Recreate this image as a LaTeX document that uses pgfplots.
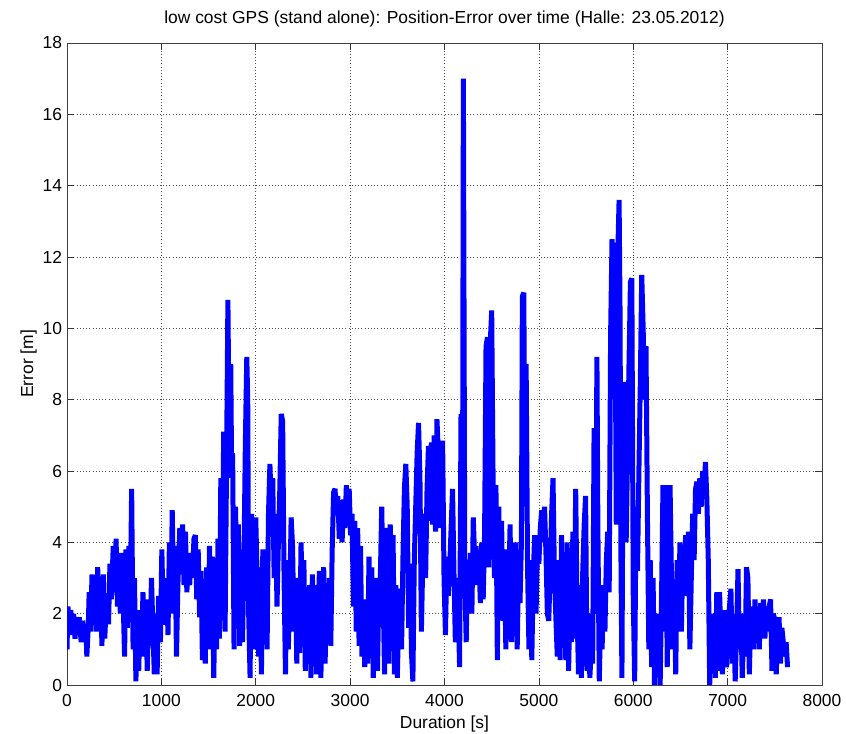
\documentclass[border=0pt]{standalone}
\usepackage{fontspec}
\setmainfont{Liberation Sans}
\usepackage{pgfplots}
\pgfplotsset{compat=1.18}
\definecolor{matblue}{RGB}{0,0,255}
\begin{document}
\fontsize{17.5}{21}\selectfont
\begin{tikzpicture}
\path[use as bounding box] (-67bp,-49bp) rectangle (779bp,685bp);
\begin{axis}[
  at={(0,0)}, anchor=south west,
  scale only axis, width=755bp, height=642bp,
  xmin=0, xmax=8000, ymin=0, ymax=18,
  xtick={0,1000,...,8000}, ytick={0,2,...,18},
  /pgf/number format/assume math mode=true,
  /pgf/number format/set thousands separator={},
  scaled ticks=false,
  tick align=inside, major tick length=7bp,
  tick style={black!80, line width=0.6bp},
  axis line style={black!75, line width=0.7bp},
  grid=major,
  major grid style={black!70, line width=0.6bp, dash pattern=on 0.8bp off 2.4bp},
  xticklabel style={font=\fontsize{17.5}{21}\selectfont, yshift=-3bp},
  yticklabel style={font=\fontsize{17.5}{21}\selectfont, xshift=1bp},
  every axis title/.style={at={(axis description cs:0.5,1.031)}, anchor=base, font=\fontsize{17.5}{21}\selectfont},
  every axis x label/.style={at={(axis description cs:0.5,-0.0685)}, anchor=base, font=\fontsize{17.5}{21}\selectfont},
  every axis y label/.style={at={(axis description cs:-0.045,0.5)}, anchor=base, rotate=90, font=\fontsize{17.5}{21}\selectfont},
  title={low cost GPS (stand alone): Position-Error over time (Halle: 23.05.2012)},
  xlabel={Duration [s]},
  ylabel={Error [m]},
]
\addplot[matblue, line width=5bp, line join=bevel, mark=none] coordinates {
(0,1.0)(10,2.2)(25,1.6)(40,2.1)(55,1.4)(70,2.0)(85,1.3)(100,1.9)(115,1.5)(130,1.9)
(150,1.2)(165,1.8)(185,1.4)(200,1.7)(210,0.8)(225,1.6)(235,2.6)(250,1.5)(265,3.1)(280,2.0)
(295,2.9)(310,1.5)(325,3.3)(340,2.2)(355,3.0)(370,1.1)(385,3.1)(400,1.3)(420,2.5)(440,1.7)
(455,3.4)(470,2.4)(490,3.9)(505,2.6)(520,4.1)(535,2.2)(550,3.4)(565,2.0)(580,3.7)(595,2.4)
(610,0.8)(625,3.8)(640,1.6)(655,3.9)(670,2.2)(685,5.5)(700,1.0)(715,3.0)(730,0.1)(745,1.8)
(760,0.4)(775,2.1)(790,1.0)(805,2.6)(820,0.8)(835,2.4)(850,0.4)(865,2.0)(880,1.1)(895,3.0)
(910,1.6)(925,0.3)(940,2.0)(955,0.3)(970,2.5)(990,1.2)(1005,3.8)(1020,1.9)(1040,1.7)(1055,3.0)
(1070,1.4)(1085,4.0)(1100,2.0)(1115,4.9)(1130,2.5)(1145,3.9)(1160,0.8)(1175,2.8)(1195,4.4)(1210,3.1)
(1225,4.5)(1240,2.8)(1255,4.3)(1270,2.6)(1285,3.4)(1300,2.8)(1315,3.7)(1330,3.0)(1345,4.1)(1360,4.2)
(1375,2.4)(1390,3.8)(1405,1.9)(1420,3.2)(1435,0.7)(1450,2.4)(1465,0.6)(1480,3.3)(1495,1.0)(1510,3.9)
(1525,2.2)(1540,3.6)(1555,0.2)(1570,2.6)(1585,1.0)(1600,4.1)(1615,1.3)(1630,5.8)(1645,2.0)(1660,7.1)
(1675,1.5)(1690,6.0)(1705,10.8)(1720,6.2)(1735,9.0)(1745,5.8)(1755,6.5)(1770,1.0)(1785,5.0)(1800,3.2)
(1815,4.5)(1830,1.1)(1845,3.8)(1860,1.2)(1875,3.5)(1890,6.8)(1905,9.2)(1915,8.0)(1925,2.0)(1940,0.2)
(1955,4.8)(1970,2.5)(1985,1.0)(2000,4.7)(2015,3.0)(2030,0.8)(2045,3.3)(2060,0.3)(2075,3.8)(2090,2.0)
(2105,3.6)(2120,1.0)(2135,4.8)(2150,6.2)(2165,5.0)(2180,5.8)(2195,3.0)(2210,4.8)(2225,2.2)(2240,4.0)
(2255,5.5)(2270,7.6)(2285,7.4)(2300,3.0)(2315,0.3)(2330,3.5)(2345,1.0)(2360,2.5)(2375,4.7)(2390,3.9)
(2405,1.5)(2420,3.0)(2435,0.6)(2450,2.7)(2465,0.9)(2480,4.0)(2495,2.2)(2510,3.5)(2525,0.4)(2540,2.4)
(2555,0.8)(2570,2.8)(2585,0.2)(2600,3.1)(2615,1.4)(2630,2.8)(2645,0.3)(2660,2.0)(2675,3.2)(2690,0.2)
(2705,2.2)(2720,3.3)(2735,0.6)(2750,2.6)(2765,1.2)(2780,3.0)(2795,1.1)(2810,3.8)(2825,5.4)(2840,5.5)
(2855,4.8)(2870,5.3)(2885,4.1)(2900,4.5)(2915,4.0)(2930,5.2)(2945,4.4)(2960,5.6)(2975,4.7)(2990,5.5)
(3005,4.2)(3020,4.8)(3035,2.2)(3050,4.6)(3065,1.5)(3080,4.4)(3095,1.1)(3110,3.9)(3125,0.8)(3140,2.4)
(3155,0.5)(3170,2.0)(3185,0.6)(3200,3.6)(3215,1.0)(3230,3.3)(3245,0.2)(3260,2.4)(3275,3.0)(3290,0.4)
(3305,2.7)(3320,3.0)(3335,5.0)(3350,2.5)(3365,0.3)(3380,3.8)(3395,4.4)(3410,0.6)(3425,4.5)(3440,1.2)
(3455,4.2)(3470,0.3)(3485,2.8)(3500,0.2)(3515,2.0)(3530,2.7)(3545,1.0)(3560,3.6)(3575,5.5)(3590,6.2)
(3605,5.0)(3620,1.6)(3635,3.4)(3650,0.9)(3665,0.1)(3680,3.5)(3695,5.0)(3710,6.5)(3725,7.35)(3740,5.8)
(3755,1.5)(3770,3.5)(3785,4.8)(3800,3.0)(3815,5.5)(3830,6.7)(3845,4.6)(3860,6.8)(3875,4.5)(3890,7.0)
(3905,4.3)(3920,7.45)(3935,6.5)(3950,4.4)(3965,6.0)(3980,6.85)(3995,3.0)(4010,1.4)(4025,3.6)(4040,2.5)
(4055,3.3)(4070,4.4)(4085,5.5)(4100,3.2)(4115,1.2)(4130,3.0)(4145,2.2)(4160,0.5)(4175,7.6)(4190,3.0)
(4200,17.0)(4215,3.0)(4230,1.2)(4245,3.5)(4260,2.6)(4275,3.7)(4290,2.0)(4305,4.7)(4320,3.5)(4335,3.9)
(4350,2.8)(4365,3.5)(4380,2.3)(4395,4.0)(4410,2.4)(4425,4.3)(4440,9.5)(4455,9.75)(4470,3.3)(4485,9.6)
(4500,10.5)(4515,5.7)(4530,3.0)(4545,5.6)(4560,0.7)(4575,5.0)(4590,2.5)(4605,4.6)(4620,1.8)(4635,3.8)
(4650,1.0)(4665,3.5)(4680,2.6)(4695,4.5)(4710,1.2)(4725,3.9)(4740,2.0)(4755,4.0)(4770,1.0)(4785,3.2)
(4800,2.3)(4815,4.0)(4825,10.9)(4840,11.0)(4855,5.0)(4865,9.0)(4880,3.3)(4895,1.0)(4910,3.5)(4925,0.7)
(4940,3.0)(4955,4.2)(4970,2.0)(4985,3.8)(5000,3.4)(5015,4.4)(5030,4.9)(5045,4.0)(5060,5.0)(5075,3.7)
(5090,2.0)(5105,1.8)(5120,3.3)(5135,4.8)(5150,5.8)(5165,3.0)(5180,1.9)(5195,0.8)(5210,3.5)(5225,0.7)
(5240,4.2)(5255,1.2)(5270,3.5)(5285,0.7)(5300,4.0)(5315,0.4)(5330,2.5)(5345,1.2)(5360,4.3)(5375,1.3)
(5390,5.5)(5405,2.0)(5420,0.3)(5435,2.8)(5450,0.2)(5465,3.2)(5480,4.5)(5495,5.3)(5510,0.4)(5525,2.0)
(5540,0.2)(5555,1.0)(5570,0.6)(5585,7.2)(5600,2.0)(5615,9.2)(5625,4.5)(5640,0.1)(5655,2.0)(5670,1.0)
(5685,2.8)(5700,1.5)(5715,3.5)(5730,4.3)(5745,2.6)(5760,9.8)(5775,12.5)(5790,10.8)(5805,12.4)(5820,4.5)
(5835,12.0)(5850,13.6)(5860,10.5)(5870,3.5)(5880,0.2)(5895,8.5)(5910,5.0)(5925,4.0)(5940,6.5)(5955,9.0)
(5970,11.3)(5985,11.4)(6000,2.5)(6015,0.1)(6030,5.0)(6045,3.2)(6060,6.0)(6075,8.5)(6090,11.5)(6105,10.0)
(6120,8.0)(6135,9.5)(6150,4.8)(6165,1.0)(6180,3.5)(6195,0.5)(6210,3.0)(6225,0.0)(6240,1.2)(6255,0.6)
(6270,2.0)(6285,0.0)(6300,2.5)(6315,5.6)(6330,1.5)(6345,5.6)(6360,0.5)(6375,3.0)(6390,5.6)(6405,3.0)
(6420,1.0)(6435,2.5)(6450,0.3)(6465,3.5)(6480,1.9)(6495,4.0)(6510,1.5)(6525,3.6)(6540,2.8)(6555,4.2)
(6570,2.5)(6585,4.3)(6600,1.0)(6615,3.0)(6630,4.8)(6645,3.5)(6660,5.5)(6675,5.7)(6690,4.8)(6705,5.8)
(6720,5.0)(6735,6.0)(6750,5.4)(6765,6.25)(6780,5.2)(6795,3.5)(6810,0.0)(6825,1.5)(6840,0.8)(6855,2.0)
(6870,0.2)(6885,2.6)(6900,0.4)(6915,2.6)(6930,1.2)(6945,0.3)(6960,2.1)(6975,1.0)(6990,0.5)(7005,1.8)
(7020,2.2)(7035,2.7)(7050,0.6)(7065,2.0)(7080,0.1)(7095,1.5)(7110,3.25)(7125,1.0)(7140,2.0)(7155,0.2)
(7170,1.5)(7185,0.8)(7200,3.3)(7215,3.0)(7230,0.3)(7245,1.9)(7260,2.2)(7275,1.0)(7290,2.4)(7305,1.3)
(7320,2.0)(7335,1.0)(7350,2.3)(7365,1.6)(7380,2.4)(7395,1.3)(7410,2.2)(7425,1.5)(7440,2.2)(7455,2.4)
(7470,0.4)(7485,2.0)(7500,1.8)(7515,0.3)(7530,1.6)(7545,1.9)(7560,0.6)(7575,1.6)(7590,1.2)(7605,0.8)
(7620,1.2)(7635,0.5)
};
\end{axis}
\end{tikzpicture}
\end{document}
